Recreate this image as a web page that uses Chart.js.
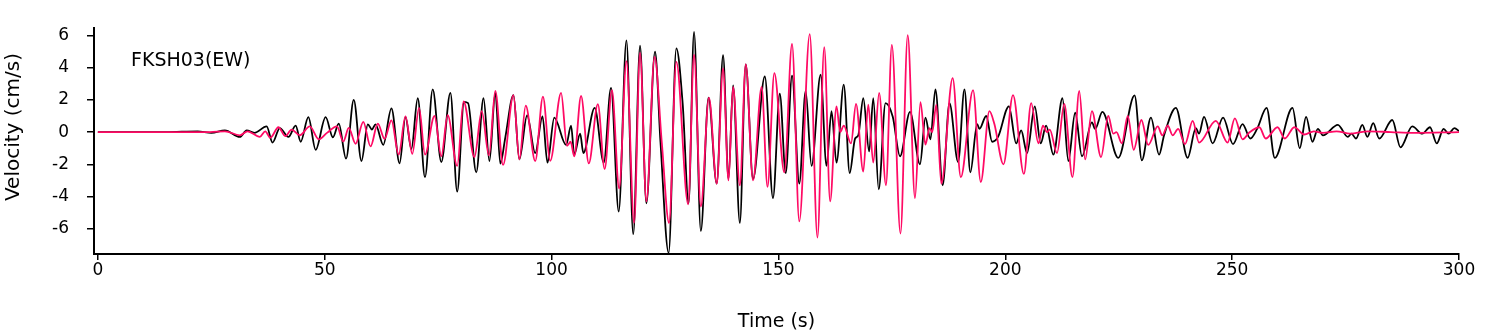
<!DOCTYPE html>
<html>
<head>
<meta charset="utf-8">
<script src="https://cdn.jsdelivr.net/npm/chart.js@4.4.0/dist/chart.umd.min.js"></script>
<style>
  html, body { margin: 0; padding: 0; background: #fff; }
</style>
</head>
<body>
<canvas id="grafica" width="1509" height="333"></canvas>
<script>
const negroT = [0, 15, 22, 25, 28, 31.3, 32.8, 34.5, 37.2, 38.5, 40.1, 42.0, 43.6, 44.7, 46.4, 48.0,
  50.2, 51.8, 53.1, 54.7, 56.4, 58.1, 59.5, 60.4, 61.2, 62.9, 64.7, 66.5, 67.8, 69.1, 70.5, 72.1,
  73.8, 75.7, 77.7, 79.2, 80.7, 81.6, 83.4, 85.0, 86.3, 87.6, 88.7, 89.8, 91.6, 92.9, 94.6, 96.4,
  98.0, 99.1, 100.6, 103.2, 104.3, 105.0, 106.3, 107.0, 109.5, 111.5, 113.1, 114.8, 116.5, 118.0,
  119.5, 120.9, 122.8, 124.0, 125.8, 127.5, 128.9, 130.2, 131.4, 132.9, 134.6, 136.4, 137.8, 139.0,
  140.0, 141.5, 142.8, 144.4, 147.0, 148.8, 150.3, 151.6, 153.0, 154.6, 156.0, 157.3, 159.3, 160.6,
  161.7, 162.8, 164.4, 165.7, 166.9, 167.6, 168.7, 170.0, 170.9, 172.1, 173.6, 175.2, 176.8, 179.0,
  181.2, 182.4, 183.5, 184.6, 186.2, 187.7, 189.6, 191.0, 192.3, 193.8, 194.3, 195.8, 197.1, 198.4,
  200.8, 202.4, 203.5, 204.8, 206.5, 207.8, 209.0, 210.6, 212.6, 213.9, 215.4, 216.9, 219.1, 219.8,
  221.4, 224.9, 228.5, 230.1, 232.1, 233.9, 235.0, 237.6, 240.2, 242.0, 242.7, 243.8, 245.7, 248.0,
  250.2, 252.3, 254.0, 255.5, 257.6, 259.4, 263.3, 264.9, 266.3, 267.7, 268.9, 270.0, 273.3, 275.5,
  276.3, 277.3, 278.7, 279.8, 281.1, 282.4, 285.3, 287.1, 289.7, 291.9, 293.6, 295.1, 296.6, 297.7,
  299.0, 300];
const negroV = [0, 0, 0.05, -0.05, 0.1, -0.3, 0.1, -0.05, 0.35, -0.65, 0.25, -0.3, 0.4, -0.6, 0.93, -1.1,
  0.93, -0.32, 0.53, -1.65, 2.0, -1.8, 0.48, 0.16, 0.48, -0.79, 1.47, -1.94, 0.95, -1.05, 2.1, -2.8,
  2.65, -1.86, 2.44, -3.7, 1.88, 1.8, -2.5, 2.1, -1.8, 2.44, -1.95, -0.34, 2.3, -1.7, 1.03, -1.3,
  0.97, -1.9, 0.9, -0.8, 0.4, -1.4, -0.1, -1.3, 1.5, -1.9, 2.75, -4.93, 5.7, -6.34,
  5.37, -4.42, 5.0, -0.6, -7.5, 5.2, 1.75, -4.42, 6.22, -6.14, 2.14, -3.2, 4.77, -2.9,
  2.9, -5.64, 4.2, -2.9, 3.45, -4.1, 2.38, -2.55, 3.5, -3.2, 2.55, -2.1, 3.56, -2.1,
  1.3, -1.9, 2.95, -2.55, -0.4, -0.2, 2.1, -1.2, 2.1, -3.56, 1.8, 0.95, -1.5, 1.25,
  -2.0, 0.9, -0.45, 2.65, -3.3, 1.8, -1.86, 2.65, -2.5, 0.5, 0.2, 1.0, -0.6, -0.3,
  1.6, -0.7, 0.1, -1.3, 1.6, -0.7, 0.4, -1.4, 2.1, -1.8, 1.2, -1.5, 0.6, 0.2,
  1.25, -1.6, 2.28, -1.75, 0.9, -1.4, -0.2, 1.5, -1.6, 0.25, -0.1, 0.95, -0.7, 0.9,
  -0.75, 0.5, -0.4, 0.2, 1.5, -1.6, 1.5, -1.0, 0.95, -0.6, 0.2, -0.2, 0.45, -0.3,
  -0.1, -0.4, 0.45, -0.3, 0.55, -0.4, 0.75, -0.95, 0.35, -0.1, 0.3, -0.7, 0.2, -0.1,
  0.25, 0.05];

const rojoT = [0, 20, 24.7, 28, 31.3, 33.0, 35.7, 36.9, 38.0, 39.8, 41.3, 42.7, 44.5, 46.7, 48.7, 50.5,
  52.7, 54.1, 55.3, 56.8, 58.5, 60.1, 61.7, 63.2, 64.7, 66.3, 67.8, 69.3, 70.8, 72.1, 74.2, 75.7,
  77.1, 79.2, 80.6, 83.0, 84.6, 86.2, 87.6, 89.3, 91.6, 92.9, 94.3, 96.4, 98.1, 99.7, 102.1, 103.4,
  104.2, 105.0, 106.5, 108.2, 110.2, 111.7, 113.3, 114.9, 116.5, 118.2, 119.5, 120.9, 122.7, 124.3,
  125.9, 127.5, 130.1, 131.4, 132.9, 134.7, 136.4, 137.8, 139.0, 140.0, 141.5, 142.8, 144.4, 146.3,
  147.6, 149.1, 151.3, 153.0, 154.6, 156.9, 158.6, 160.1, 161.4, 162.8, 163.6, 164.4, 166.0, 167.1,
  168.7, 169.8, 170.9, 172.2, 173.7, 175.0, 176.9, 178.5, 180.1, 181.3, 182.4, 183.3, 183.9, 184.8,
  185.9, 188.4, 190.2, 192.9, 194.6, 196.5, 197.6, 199.6, 201.7, 204.1, 205.7, 207.3, 208.3, 209.2,
  209.8, 211.4, 213.0, 214.8, 216.3, 217.6, 219.1, 221.1, 222.7, 223.8, 224.5, 225.7, 227.0, 228.3,
  230.0, 231.5, 233.6, 234.6, 235.8, 236.9, 238.1, 239.6, 241.3, 242.7, 246.4, 249.0, 250.6, 252.3,
  253.9, 256.0, 257.4, 260.0, 261.6, 263.7, 265.9, 268, 270, 273, 276, 280, 285, 290, 300];
const rojoV = [0, 0, 0, 0.05, -0.2, 0.05, -0.3, 0.05, -0.35, 0.3, -0.25, 0.15, -0.2, 0.35, -0.45, -0.05,
  0.35, -0.58, 0.26, -0.73, 0.63, -0.89, 0.53, -0.42, 0.73, -1.4, 0.97, -1.35, 1.5, -1.4, 1.0, -1.5,
  1.05, -2.1, 1.9, -1.55, 1.3, -1.45, 2.55, -2.04, 2.3, -1.7, 1.64, -1.8, 2.2, -1.78, 2.44, -0.85,
  -0.6, -1.5, 2.24, -1.94, 1.73, -2.3, 2.6, -3.5, 4.4, -5.64, 4.93, -4.3, 4.67, -0.67,
  -5.64, 4.36, -4.48, 4.8, -4.62, 2.14, -3.2, 3.96, -3.0, 2.8, -3.3, 4.2, -3.0, 2.8,
  -3.4, 3.66, -2.5, 5.47, -5.54, 6.08, -6.55, 5.27, -4.3, 1.6, 0.0, 0.4, -0.7, 1.75,
  -2.45, 1.7, -1.9, 2.44, -3.3, 5.41, -6.3, 6.02, -4.1, 1.86, -0.78, 0.25, 0.0, 1.7,
  -3.2, 3.35, -2.8, 2.6, -3.1, 1.3, 0.5, -2.0, 2.3, -2.6, 1.8, -0.7, 0.4, 0.0,
  0.15, -1.3, 1.75, -2.8, 2.55, -1.7, 1.3, -1.55, 1.0, -0.1, 0.0, -0.7, 1.0, -1.1,
  0.75, -0.8, 0.35, -0.2, 0.4, -0.2, 0.2, -0.75, 0.7, -0.65, 0.7, -0.65, 0.85, -0.45,
  0.0, 0.3, -0.4, 0.3, -0.4, 0.3, -0.15, 0.05, -0.05, 0.05, -0.1, 0.05, 0, -0.05, 0];

const ticksX = [0, 50, 100, 150, 200, 250, 300];
const ticksY = [-6, -4, -2, 0, 2, 4, 6];
const etiqueta = 'FKSH03(EW)';
const tituloY = 'Velocity (cm/s)';

function puntos(t, v) {
  let p = [];
  for (let i = 0; i < t.length; i++) p.push({ x: t[i], y: v[i] });
  return p;
}

const fuenteTicks = { family: 'DejaVu Sans', size: 17 };
const fuenteTitulo = { family: 'DejaVu Sans', size: 19 };

// texto de la estacion y titulo vertical
const textos = {
  id: 'textos',
  afterDraw(chart) {
    const ctx = chart.ctx;
    ctx.save();
    ctx.fillStyle = '#000';
    ctx.textBaseline = 'middle';
    ctx.font = '19px "DejaVu Sans"';
    ctx.fillText(etiqueta, 131, 61);
    ctx.font = '20px "DejaVu Sans"';
    ctx.translate(14, 127);
    ctx.rotate(-Math.PI / 2);
    ctx.textAlign = 'center';
    ctx.fillText(tituloY, 0, 0);
    ctx.restore();
  }
};

const ctx = document.getElementById('grafica').getContext('2d');
const graph = new Chart(ctx, {
  type: 'line',
  data: {
    datasets: [{
      label: 'rojo',
      data: puntos(rojoT, rojoV),
      borderColor: '#ff0a64',
      borderWidth: 1.8,
      pointRadius: 0,
      cubicInterpolationMode: 'monotone',
      order: 0
    }, {
      label: 'negro',
      data: puntos(negroT, negroV),
      borderColor: '#000',
      borderWidth: 1.8,
      pointRadius: 0,
      cubicInterpolationMode: 'monotone',
      order: 1
    }]
  },
  options: {
    responsive: false,
    animation: false,
    devicePixelRatio: 1,
    layout: { padding: { left: 0, right: 50, top: 20, bottom: 0 } },
    plugins: { legend: { display: false }, tooltip: { enabled: false } },
    scales: {
      x: {
        type: 'linear',
        min: -0.85,
        max: 300,
        afterBuildTicks: (s) => { s.ticks = ticksX.map(v => ({ value: v })); },
        afterFit: (s) => { s.height = 79; },
        ticks: { color: '#000', font: fuenteTicks, padding: 0, maxRotation: 0 },
        grid: { display: true, drawOnChartArea: false, color: '#000', tickLength: 6, lineWidth: 1.5 },
        border: { display: true, color: '#000', width: 2 },
        title: { display: true, text: 'Time (s)', color: '#000', font: fuenteTitulo, padding: { top: 0, bottom: 0 } }
      },
      y: {
        min: -7.57,
        max: 6.45,
        afterBuildTicks: (s) => { s.ticks = ticksY.map(v => ({ value: v })); },
        afterFit: (s) => { s.width = 94; },
        ticks: { color: '#000', font: fuenteTicks, padding: 18 },
        grid: { display: true, drawOnChartArea: false, color: '#000', tickLength: 7, lineWidth: 1.5 },
        border: { display: true, color: '#000', width: 2 }
      }
    }
  },
  plugins: [textos]
});
</script>
</body>
</html>
